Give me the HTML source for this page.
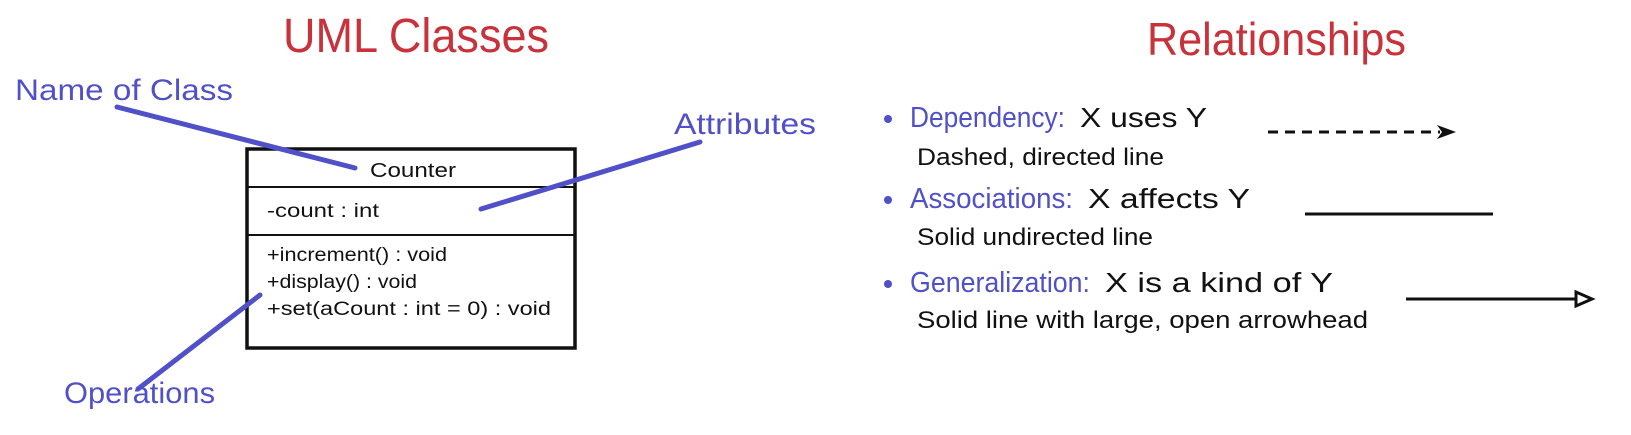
<!DOCTYPE html>
<html><head><meta charset="utf-8"><style>
html,body{margin:0;padding:0;background:#fff}
svg{display:block}
text{font-family:"Liberation Sans",sans-serif}
</style></head><body>
<svg width="1631" height="435" viewBox="0 0 1631 435" xmlns="http://www.w3.org/2000/svg">
<!-- Left titles -->
<text x="283" y="52" font-size="48" fill="#c8323a" textLength="266" lengthAdjust="spacingAndGlyphs">UML  Classes</text>
<text x="15" y="100" font-size="30" fill="#5050c8" textLength="218" lengthAdjust="spacingAndGlyphs">Name  of  Class</text>
<text x="674" y="134" font-size="30" fill="#5050c8" textLength="142" lengthAdjust="spacingAndGlyphs">Attributes</text>
<text x="64" y="403" font-size="30" fill="#5050c8" textLength="151" lengthAdjust="spacingAndGlyphs">Operations</text>

<!-- Class box -->
<rect x="247" y="149" width="328" height="199" fill="#fff" stroke="#111" stroke-width="3.5"/>
<line x1="247" y1="187" x2="575" y2="187" stroke="#111" stroke-width="2"/>
<line x1="247" y1="235" x2="575" y2="235" stroke="#111" stroke-width="2"/>
<text x="413" y="177" font-size="20" fill="#111" text-anchor="middle" textLength="86" lengthAdjust="spacingAndGlyphs">Counter</text>
<text x="267" y="217" font-size="19" fill="#111" textLength="112" lengthAdjust="spacingAndGlyphs">-count  :  int</text>
<text x="267" y="261" font-size="19" fill="#111" textLength="180" lengthAdjust="spacingAndGlyphs">+increment()  :  void</text>
<text x="267" y="288" font-size="19" fill="#111" textLength="150" lengthAdjust="spacingAndGlyphs">+display()  :  void</text>
<text x="267" y="315" font-size="19" fill="#111" textLength="284" lengthAdjust="spacingAndGlyphs">+set(aCount  :  int  =  0)  :  void</text>

<!-- pointer lines -->
<g stroke="#5050c8" stroke-width="5" stroke-linecap="round">
<line x1="117" y1="107" x2="355" y2="168"/>
<line x1="700" y1="142" x2="481" y2="209"/>
<line x1="260" y1="295" x2="138" y2="389"/>
</g>

<!-- Right -->
<text x="1147" y="55" font-size="46" fill="#c8323a" textLength="259" lengthAdjust="spacingAndGlyphs">Relationships</text>

<circle cx="888" cy="119" r="4" fill="#5050c8"/>
<text x="910" y="127" font-size="29" fill="#5050c8" textLength="155" lengthAdjust="spacingAndGlyphs">Dependency:</text>
<text x="1080" y="127" font-size="28" fill="#111" textLength="127" lengthAdjust="spacingAndGlyphs">X  uses  Y</text>
<text x="917" y="165" font-size="24" fill="#111" textLength="247" lengthAdjust="spacingAndGlyphs">Dashed,  directed  line</text>

<circle cx="888" cy="200" r="4" fill="#5050c8"/>
<text x="910" y="208" font-size="29" fill="#5050c8" textLength="163" lengthAdjust="spacingAndGlyphs">Associations:</text>
<text x="1088" y="208" font-size="28" fill="#111" textLength="162" lengthAdjust="spacingAndGlyphs">X  affects  Y</text>
<text x="917" y="245" font-size="24" fill="#111" textLength="236" lengthAdjust="spacingAndGlyphs">Solid  undirected  line</text>

<circle cx="888" cy="284" r="4" fill="#5050c8"/>
<text x="910" y="292" font-size="29" fill="#5050c8" textLength="180" lengthAdjust="spacingAndGlyphs">Generalization:</text>
<text x="1105" y="292" font-size="28" fill="#111" textLength="228" lengthAdjust="spacingAndGlyphs">X  is  a  kind  of  Y</text>
<text x="917" y="328" font-size="24" fill="#111" textLength="451" lengthAdjust="spacingAndGlyphs">Solid  line  with  large,  open  arrowhead</text>

<!-- connectors -->
<line x1="1268" y1="132" x2="1440" y2="132" stroke="#111" stroke-width="3" stroke-dasharray="10,7"/>
<path d="M1437 125 L1456 132 L1437 139 L1442 132 Z" fill="#111"/>
<line x1="1305" y1="214" x2="1493" y2="214" stroke="#111" stroke-width="3"/>
<line x1="1406" y1="299" x2="1576" y2="299" stroke="#111" stroke-width="3"/>
<path d="M1576 292 L1592 299 L1576 306 Z" fill="#fff" stroke="#111" stroke-width="3" stroke-linejoin="miter"/>
</svg>
</body></html>
